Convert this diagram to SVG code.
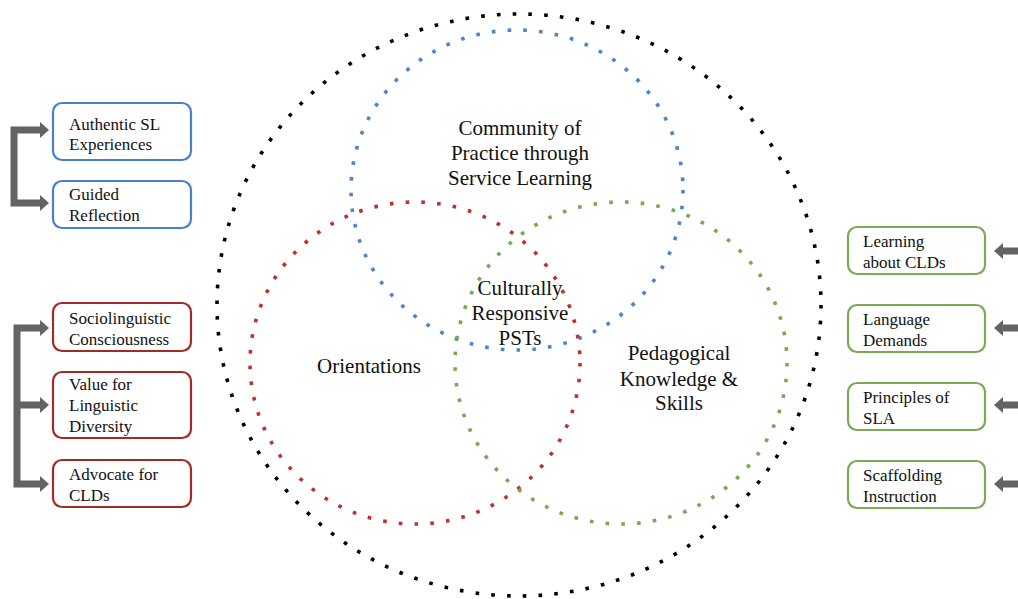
<svg xmlns="http://www.w3.org/2000/svg" width="1018" height="599" viewBox="0 0 1018 599">
<defs>
<style>
.dot{fill:none;stroke-width:3.6;stroke-dasharray:3.6 12.2}
.box{fill:#fff;stroke-width:2.2}
.bt{font-family:"Liberation Serif","Times New Roman",serif;font-size:17px;fill:#111}
.ct{font-family:"Liberation Serif","Times New Roman",serif;font-size:21px;fill:#111;text-anchor:middle}
.arw{fill:none;stroke:#636363;stroke-width:7}
.ah{fill:#636363}
</style>
</defs>
<rect width="1018" height="599" fill="#fff"/>
<g id="circles">
<ellipse id="outer" class="dot" cx="519" cy="305" rx="302" ry="291" stroke="#000"/>
<ellipse id="community" class="dot" cx="517" cy="190" rx="166" ry="160" stroke="#4a86c8"/>
<ellipse id="orientations" class="dot" cx="415" cy="363" rx="165" ry="161" stroke="#c2302a"/>
<ellipse id="pedagogical" class="dot" cx="621" cy="363" rx="166" ry="161" stroke="#78a955"/>
</g>
<g id="circle-labels">
<text class="ct" x="520"><tspan x="520" y="135">Community of</tspan><tspan x="520" y="160">Practice through</tspan><tspan x="520" y="185">Service Learning</tspan></text>
<text class="ct" x="520"><tspan x="520" y="295">Culturally</tspan><tspan x="520" y="320">Responsive</tspan><tspan x="520" y="345">PSTs</tspan></text>
<text class="ct" x="369" y="373">Orientations</text>
<text class="ct" x="679"><tspan x="679" y="360">Pedagogical</tspan><tspan x="679" y="386">Knowledge &amp;</tspan><tspan x="679" y="410">Skills</tspan></text>
</g>
<g id="connectors">
<path class="arw" d="M41,130 H14 V203 H41"/>
<polygon class="ah" points="40,122 49,130 40,138"/>
<polygon class="ah" points="40,195 49,203 40,211"/>
<path class="arw" d="M41,328 H17 V484 H41 M17,405 H41"/>
<polygon class="ah" points="40,320 49,328 40,336"/>
<polygon class="ah" points="40,397 49,405 40,413"/>
<polygon class="ah" points="40,476 49,484 40,492"/>
<path class="arw" d="M1018,251 H1002 M1018,328 H1002 M1018,405 H1002 M1018,484 H1002"/>
<polygon class="ah" points="1003,243 994,251 1003,259"/>
<polygon class="ah" points="1003,320 994,328 1003,336"/>
<polygon class="ah" points="1003,397 994,405 1003,413"/>
<polygon class="ah" points="1003,476 994,484 1003,492"/>
</g>
<g id="authentic"><rect class="box" x="53" y="103" width="138" height="57" rx="9" stroke="#4a7fd0"/><text class="bt"><tspan x="69" y="130">Authentic SL</tspan><tspan x="69" y="150">Experiences</tspan></text></g>
<g id="guided"><rect class="box" x="53" y="181" width="138" height="47" rx="9" stroke="#4a7fd0"/><text class="bt"><tspan x="69" y="200">Guided</tspan><tspan x="69" y="221">Reflection</tspan></text></g>
<g id="socio"><rect class="box" x="53" y="303" width="138" height="48" rx="9" stroke="#a32b27"/><text class="bt"><tspan x="69" y="324">Sociolinguistic</tspan><tspan x="69" y="345">Consciousness</tspan></text></g>
<g id="value"><rect class="box" x="53" y="372" width="138" height="66" rx="9" stroke="#a32b27"/><text class="bt"><tspan x="69" y="390">Value for</tspan><tspan x="69" y="411">Linguistic</tspan><tspan x="69" y="432">Diversity</tspan></text></g>
<g id="advocate"><rect class="box" x="53" y="460" width="138" height="47" rx="9" stroke="#a32b27"/><text class="bt"><tspan x="69" y="480">Advocate for</tspan><tspan x="69" y="501">CLDs</tspan></text></g>
<g id="learning"><rect class="box" x="848" y="227" width="137" height="47" rx="9" stroke="#79ab55"/><text class="bt"><tspan x="863" y="247">Learning</tspan><tspan x="863" y="268">about CLDs</tspan></text></g>
<g id="language"><rect class="box" x="848" y="305" width="137" height="47" rx="9" stroke="#79ab55"/><text class="bt"><tspan x="863" y="325">Language</tspan><tspan x="863" y="346">Demands</tspan></text></g>
<g id="principles"><rect class="box" x="848" y="383" width="137" height="47" rx="9" stroke="#79ab55"/><text class="bt"><tspan x="863" y="403">Principles of</tspan><tspan x="863" y="424">SLA</tspan></text></g>
<g id="scaffolding"><rect class="box" x="848" y="461" width="137" height="47" rx="9" stroke="#79ab55"/><text class="bt"><tspan x="863" y="481">Scaffolding</tspan><tspan x="863" y="502">Instruction</tspan></text></g>
</svg>
